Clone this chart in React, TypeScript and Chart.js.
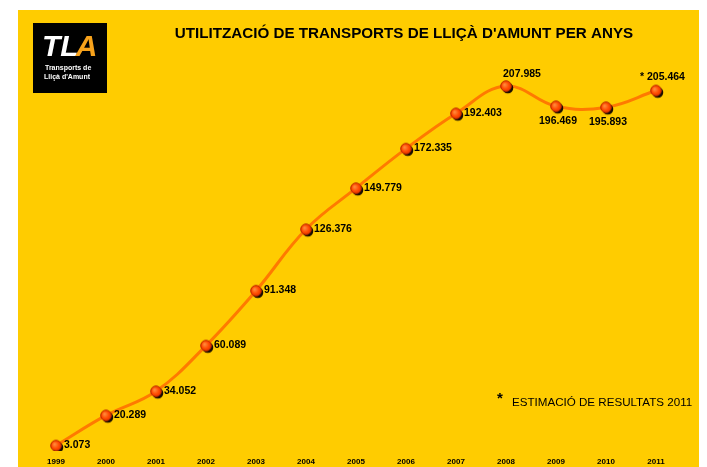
import React, { useEffect, useRef } from "react";
import { Chart, registerables } from "chart.js";

Chart.register(...registerables);

const years = ["1999", "2000", "2001", "2002", "2003", "2004", "2005", "2006", "2007", "2008", "2009", "2010", "2011"];
const passengers = [3073, 20289, 34052, 60089, 91348, 126376, 149779, 172335, 192403, 207985, 196469, 195893, 205464];
const labelPrefix = ["", "", "", "", "", "", "", "", "", "", "", "", "* "];
const labelPlacement = ["right", "right", "right", "right", "right", "right", "right", "right", "right", "top", "bottom", "bottom", "topleft"];

const titleText = "UTILITZACIÓ DE TRANSPORTS DE LLIÇÀ D'AMUNT PER ANYS";
const footnoteText = "ESTIMACIÓ DE RESULTATS 2011";
const logoLines = ["Transports de", "Lliçà d'Amunt"];

const YELLOW = "#FFCC00";
const FONT = "'Liberation Sans', Arial, sans-serif";

function fmt(v: number): string {
  return String(v).replace(/\B(?=(\d{3})+(?!\d))/g, ".");
}

function makePointImage(): HTMLCanvasElement {
  const c = document.createElement("canvas");
  c.width = 20;
  c.height = 20;
  const ctx = c.getContext("2d")!;
  ctx.beginPath();
  ctx.arc(11.8, 11.8, 5.5, 0, Math.PI * 2);
  ctx.fillStyle = "#1a0d00";
  ctx.fill();
  const g = ctx.createRadialGradient(8.5, 8.5, 0.5, 10, 10, 5.8);
  g.addColorStop(0, "#FF8A3A");
  g.addColorStop(0.6, "#FF4A00");
  g.addColorStop(1, "#E03000");
  ctx.beginPath();
  ctx.arc(10, 10, 5.3, 0, Math.PI * 2);
  ctx.fillStyle = g;
  ctx.fill();
  ctx.lineWidth = 1;
  ctx.strokeStyle = "#B82800";
  ctx.stroke();
  return c;
}

const decorPlugin = {
  id: "decor",
  beforeDraw(chart: any) {
    const { ctx, width, height } = chart;
    ctx.save();
    ctx.fillStyle = YELLOW;
    ctx.fillRect(0, 0, width, height);
    ctx.restore();
  },
  afterDraw(chart: any) {
    const { ctx } = chart;
    ctx.save();
    // logo
    ctx.fillStyle = "#000";
    ctx.fillRect(15, 13, 74, 70);
    ctx.textBaseline = "alphabetic";
    ctx.textAlign = "left";
    ctx.font = `italic bold 30px ${FONT}`;
    ctx.fillStyle = "#FFFFFF";
    ctx.fillText("TL", 24, 46);
    const w = ctx.measureText("TL").width;
    ctx.fillStyle = "#F7A21B";
    ctx.fillText("A", 24 + w - 3, 46);
    ctx.fillStyle = "#FFFFFF";
    ctx.font = `bold 7px ${FONT}`;
    ctx.fillText(logoLines[0], 27, 60);
    ctx.fillText(logoLines[1], 26, 69);

    // title
    ctx.fillStyle = "#000";
    ctx.font = `bold 15.2px ${FONT}`;
    ctx.textAlign = "center";
    ctx.textBaseline = "middle";
    ctx.fillText(titleText, 386, 24);

    // footnote
    ctx.textAlign = "left";
    ctx.font = `bold 15px ${FONT}`;
    ctx.fillText("*", 479, 389);
    ctx.font = `11.6px ${FONT}`;
    ctx.fillText(footnoteText, 494, 393);
    ctx.restore();
  },
};

const labelPlugin = {
  id: "valueLabels",
  afterDatasetsDraw(chart: any) {
    const { ctx } = chart;
    const meta = chart.getDatasetMeta(0);
    ctx.save();
    ctx.fillStyle = "#000";
    ctx.font = `bold 10.5px ${FONT}`;
    meta.data.forEach((pt: any, i: number) => {
      const txt = labelPrefix[i] + fmt(passengers[i]);
      const pos = labelPlacement[i];
      let x = pt.x;
      let y = pt.y;
      ctx.textBaseline = "middle";
      if (pos === "right") {
        ctx.textAlign = "left";
        x += 8;
        y -= 0.5;
      } else if (pos === "top") {
        ctx.textAlign = "left";
        x -= 3;
        y -= 12;
      } else if (pos === "bottom") {
        ctx.textAlign = "center";
        x += 2;
        y += 15;
      } else {
        ctx.textAlign = "left";
        x -= 16;
        y -= 13;
      }
      ctx.fillText(txt, x, y);
    });
    ctx.restore();
  },
};

export default function App() {
  const ref = useRef<HTMLCanvasElement | null>(null);
  useEffect(() => {
    if (!ref.current) return;
    const pointImg = makePointImage();
    const chart = new Chart(ref.current, {
      type: "line",
      data: {
        labels: years,
        datasets: [
          {
            data: passengers,
            borderColor: "#FF7A00",
            borderWidth: 3,
            tension: 0.4,
            pointStyle: pointImg as any,
            pointRadius: 6,
            pointHoverRadius: 6,
            fill: false,
          },
        ],
      },
      options: {
        animation: false,
        responsive: false,
        maintainAspectRatio: false,
        devicePixelRatio: 1,
        layout: { padding: { left: 38, right: 43, top: 55, bottom: 0 } },
        plugins: {
          legend: { display: false },
          title: { display: false },
          tooltip: { enabled: false },
        },
        scales: {
          x: {
            offset: false,
            grid: { display: false, drawTicks: false },
            border: { display: false },
            ticks: {
              color: "#000",
              font: { family: FONT, size: 8, weight: "bold" },
              padding: 6,
              maxRotation: 0,
              autoSkip: false,
            },
            afterFit: (scale: any) => {
              scale.height = 16;
            },
          },
          y: {
            display: false,
            min: 0,
            max: 220000,
          },
        },
      },
      plugins: [decorPlugin, labelPlugin],
    });
    return () => chart.destroy();
  }, []);

  return (
    <div style={{ position: "absolute", left: 0, top: 0, width: 707, height: 467, background: "#fff", overflow: "hidden" }}>
      <canvas
        ref={ref}
        width={681}
        height={457}
        style={{ position: "absolute", left: 18, top: 10, width: 681, height: 457 }}
      />
    </div>
  );
}
